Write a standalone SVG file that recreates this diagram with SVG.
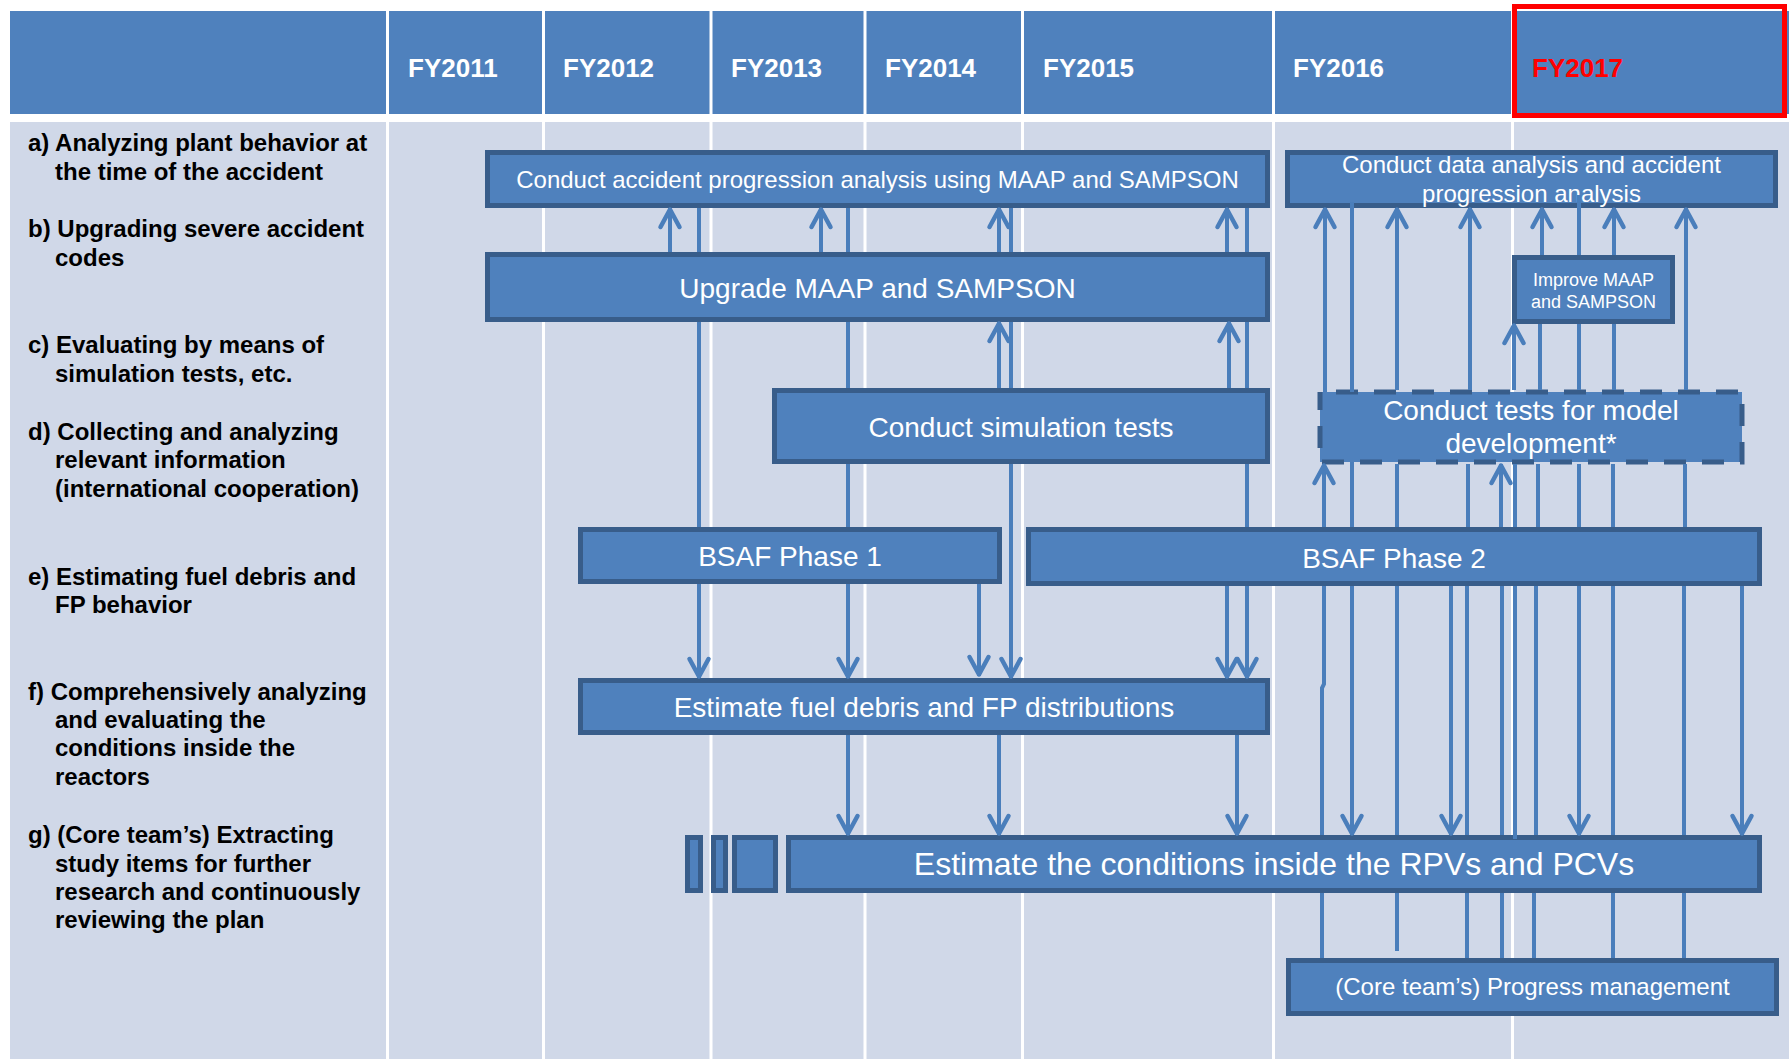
<svg xmlns="http://www.w3.org/2000/svg" width="1789" height="1059" viewBox="0 0 1789 1059">
<defs>
<style>
.hdr{fill:#4f81bd}
.body{fill:#d0d8e8}
.sep{stroke:#ffffff;stroke-width:3}
.fy{font-family:"Liberation Sans",Arial,sans-serif;font-weight:bold;font-size:26px;fill:#ffffff}
.lbl{font-family:"Liberation Sans",Arial,sans-serif;font-weight:bold;font-size:24px;fill:#000000}
.box{fill:#4f81bd;stroke:#385d8a;stroke-width:5}
.dash{stroke-dasharray:22 16;stroke-dashoffset:22}
.bt{font-family:"Liberation Sans",Arial,sans-serif;fill:#ffffff;text-anchor:middle}
.cn{fill:none;stroke:#4a7ebb;stroke-width:4;marker-end:url(#arr)}
</style>
<marker id="arr" markerUnits="userSpaceOnUse" viewBox="-30 -15 34 30" markerWidth="34" markerHeight="30" refX="0" refY="0" orient="auto" overflow="visible">
<path d="M-19,-9.5 L-1.5,0 L-19,9.5" fill="none" stroke="#4a7ebb" stroke-width="4.5" stroke-linecap="round" stroke-linejoin="round"/>
</marker>
</defs>
<rect x="0" y="0" width="1789" height="1059" fill="#ffffff"/>
<g id="table">
<rect class="hdr" x="10" y="11" width="1779" height="103"/>
<rect class="body" x="10" y="122" width="1779" height="937"/>
<line class="sep" x1="387.5" y1="11" x2="387.5" y2="1059"/>
<line class="sep" x1="543.5" y1="11" x2="543.5" y2="1059"/>
<line class="sep" x1="711" y1="11" x2="711" y2="1059"/>
<line class="sep" x1="865" y1="11" x2="865" y2="1059"/>
<line class="sep" x1="1022.5" y1="11" x2="1022.5" y2="1059"/>
<line class="sep" x1="1273.5" y1="11" x2="1273.5" y2="1059"/>
<line class="sep" x1="1512.5" y1="11" x2="1512.5" y2="1059"/>
</g>
<g id="header">
<text class="fy" x="408" y="77">FY2011</text>
<text class="fy" x="563" y="77">FY2012</text>
<text class="fy" x="731" y="77">FY2013</text>
<text class="fy" x="885" y="77">FY2014</text>
<text class="fy" x="1043" y="77">FY2015</text>
<text class="fy" x="1293" y="77">FY2016</text>
<text class="fy" x="1532" y="77" fill="#ff0000" style="fill:#ff0000">FY2017</text>
<rect x="1514.5" y="6.5" width="270" height="109" fill="none" stroke="#ff0000" stroke-width="5"/>
</g>
<g id="labels">
<text class="lbl" x="28" y="151">a) Analyzing plant behavior at</text>
<text class="lbl" x="55" y="180">the time of the accident</text>
<text class="lbl" x="28" y="237">b) Upgrading severe accident</text>
<text class="lbl" x="55" y="266">codes</text>
<text class="lbl" x="28" y="353">c) Evaluating by means of</text>
<text class="lbl" x="55" y="382">simulation tests, etc.</text>
<text class="lbl" x="28" y="440">d) Collecting and analyzing</text>
<text class="lbl" x="55" y="468">relevant information</text>
<text class="lbl" x="55" y="497">(international cooperation)</text>
<text class="lbl" x="28" y="585">e) Estimating fuel debris and</text>
<text class="lbl" x="55" y="613">FP behavior</text>
<text class="lbl" x="28" y="700">f) Comprehensively analyzing</text>
<text class="lbl" x="55" y="728">and evaluating the</text>
<text class="lbl" x="55" y="756">conditions inside the</text>
<text class="lbl" x="55" y="785">reactors</text>
<text class="lbl" x="28" y="843">g) (Core team’s) Extracting</text>
<text class="lbl" x="55" y="872">study items for further</text>
<text class="lbl" x="55" y="900">research and continuously</text>
<text class="lbl" x="55" y="928">reviewing the plan</text>
</g>
<g id="node-a1">
<rect class="box" x="487.5" y="152.5" width="780" height="53"/>
<text class="bt" x="877.5" y="188" font-size="24">Conduct accident progression analysis using MAAP and SAMPSON</text>
</g>
<g id="node-a2">
<rect class="box" x="1287.5" y="152.5" width="488" height="53"/>
<text class="bt" x="1531.5" y="173" font-size="24">Conduct data analysis and accident</text>
<text class="bt" x="1531.5" y="202" font-size="24">progression analysis</text>
</g>
<g id="node-b1">
<rect class="box" x="487.5" y="254.5" width="780" height="65"/>
<text class="bt" x="877.5" y="298" font-size="28">Upgrade MAAP and SAMPSON</text>
</g>
<g id="node-b2">
<rect class="box" x="1514.5" y="257.5" width="158" height="64"/>
<text class="bt" x="1593.5" y="285.5" font-size="18">Improve MAAP</text>
<text class="bt" x="1593.5" y="308" font-size="18">and SAMPSON</text>
</g>
<g id="node-c1">
<rect class="box" x="774.5" y="390.5" width="493" height="71"/>
<text class="bt" x="1021" y="437" font-size="28">Conduct simulation tests</text>
</g>
<g id="node-c2">
<rect class="box dash" x="1320" y="392" width="422" height="70"/>
<text class="bt" x="1531" y="420" font-size="28">Conduct tests for model</text>
<text class="bt" x="1531" y="453" font-size="28">development*</text>
</g>
<g id="node-d1">
<rect class="box" x="580.5" y="529.5" width="419" height="52"/>
<text class="bt" x="790" y="566" font-size="28">BSAF Phase 1</text>
</g>
<g id="node-d2">
<rect class="box" x="1028.5" y="529.5" width="731" height="54"/>
<text class="bt" x="1394" y="568" font-size="28">BSAF Phase 2</text>
</g>
<g id="node-e">
<rect class="box" x="580.5" y="680.5" width="687" height="52"/>
<text class="bt" x="924" y="717" font-size="28">Estimate fuel debris and FP distributions</text>
</g>
<g id="node-f-stubs">
<rect class="box" x="687.5" y="837.5" width="13" height="53"/>
<rect class="box" x="713.5" y="837.5" width="12" height="53"/>
<rect class="box" x="734.5" y="837.5" width="41" height="53"/>
</g>
<g id="node-f">
<rect class="box" x="788.5" y="837.5" width="971" height="53"/>
<text class="bt" x="1274" y="875" font-size="32">Estimate the conditions inside the RPVs and PCVs</text>
</g>
<g id="node-g">
<rect class="box" x="1288.5" y="960.5" width="488" height="53"/>
<text class="bt" x="1532.5" y="995" font-size="24">(Core team’s) Progress management</text>
</g>
<g id="connectors">
<path class="cn" d="M670,252 V208"/>
<path class="cn" d="M699,208 V252 M699,322 V527 M699,584 V678"/>
<path class="cn" d="M821,252 V208"/>
<path class="cn" d="M848,208 V252 M848,322 V388 M848,464 V527 M848,584 V678"/>
<path class="cn" d="M999,252 V208"/>
<path class="cn" d="M999,388 V322"/>
<path class="cn" d="M1011,208 V252 M1011,322 V388 M1011,464 V678"/>
<path class="cn" d="M1227,252 V208"/>
<path class="cn" d="M1229,388 V322"/>
<path class="cn" d="M1247,208 V252 M1247,322 V388 M1247,464 V527 M1247,586 V678"/>
<path class="cn" d="M979,584 V676"/>
<path class="cn" d="M1227,586 V678"/>
<path class="cn" d="M848,735 V835"/>
<path class="cn" d="M999,735 V835"/>
<path class="cn" d="M1237,735 V835"/>
<path class="cn" d="M1322,958 V893 M1322,835 V688 L1324,684 V586 M1324,527 V464"/>
<path class="cn" d="M1325,392 V208"/>
<path class="cn" d="M1352,202 V392 M1352,462 V527 M1352,586 V835"/>
<path class="cn" d="M1397,951 V893 M1397,835 V586 M1397,527 V464 M1397,390 V208"/>
<path class="cn" d="M1451,586 V835"/>
<path class="cn" d="M1467,958 V893 M1467,835 V586 M1468,527 V464 M1470,390 V208"/>
<path class="cn" d="M1502,958 V893 M1502,835 V586 M1501,527 V464"/>
<path class="cn" d="M1515,839 V586 M1515,527 V464 M1514,390 V324"/>
<path class="cn" d="M1534,958 V893 M1536,835 V586 M1538,527 V464 M1540,390 V324 M1542,255 V208"/>
<path class="cn" d="M1579,195 V255 M1579,324 V390 M1579,464 V527 M1579,586 V835"/>
<path class="cn" d="M1613,958 V893 M1613,835 V586 M1613,527 V464 M1614,390 V324 M1614,255 V208"/>
<path class="cn" d="M1684,958 V893 M1684,835 V586 M1685,527 V464 M1686,390 V208"/>
<path class="cn" d="M1742,586 V835"/>
</g>
</svg>
